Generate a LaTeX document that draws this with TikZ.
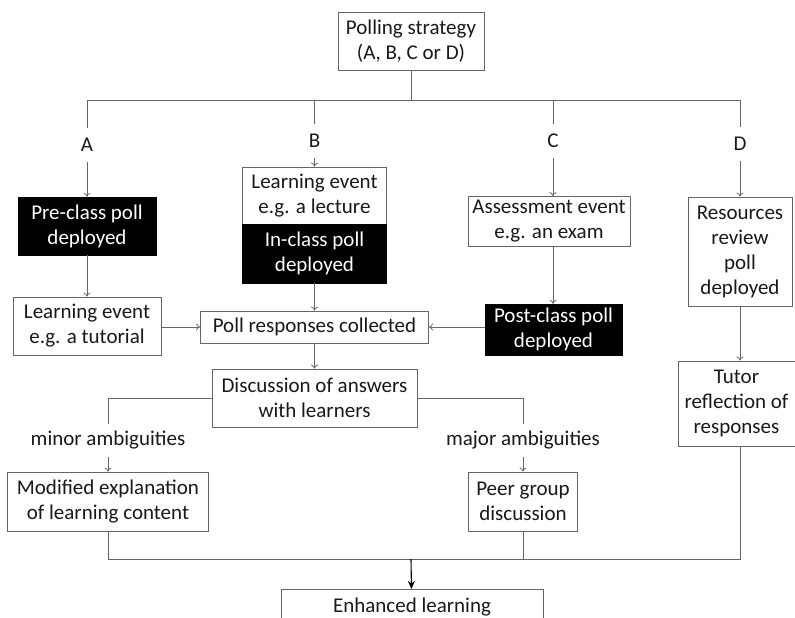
\documentclass[tikz,border=0pt]{standalone}
\usepackage{fontspec}
\setmainfont{Carlito}
\usetikzlibrary{arrows.meta}
\begin{document}
\begin{tikzpicture}[
    x=1pt, y=-1pt,
    every node/.style={font=\fontsize{21}{25}\selectfont, text=black!90},
    box/.style={draw=black!60, fill=white, align=center, inner sep=2pt, line width=0.8pt},
    pollbox/.style={draw=black, fill=black, text=white, align=center, inner sep=2pt},
    branch/.style={inner sep=2pt, minimum height=33pt},
    link/.style={draw=black!60, line width=0.8pt},
    arrow/.style={link, -{To[length=4pt,width=7pt]}},
    final_arrow/.style={-{Stealth[length=8pt,width=7pt]}, black, line width=1.1pt}
]
\useasboundingbox (0,0) rectangle (795,618);

% Strategy (top)
\node[box, minimum width=146pt, minimum height=58pt] (strategy) at (411,41) {Polling strategy\\(A, B, C or D)};
\coordinate (bus) at (411,100);

% Branch labels
\node[branch] (labA) at (87,145) {A};
\node[branch] (labB) at (314.5,141) {B};
\node[branch] (labC) at (553,141) {C};
\node[branch] (labD) at (740,144) {D};

% Polls and events
\node[pollbox, minimum width=138pt, minimum height=58pt] (preclass) at (87,226) {Pre-class poll\\deployed};
\node[box, minimum width=144pt, minimum height=57pt] (lecture) at (314.5,195.5) {Learning event\\e.g. a lecture};
\node[pollbox, minimum width=144pt, minimum height=59pt] (inclass) at (314.5,253.5) {In-class poll\\deployed};
\node[box, minimum width=162pt, minimum height=50pt] (assess) at (549,221.5) {Assessment event\\e.g. an exam};
\node[box, minimum width=104pt, minimum height=109pt] (resources) at (740,251.5) {Resources\\review\\poll\\deployed};
\node[box, minimum width=148pt, minimum height=58pt] (tutorial) at (87,326) {Learning event\\e.g. a tutorial};
\node[pollbox, minimum width=137pt, minimum height=51pt] (postclass) at (553.5,329.5) {Post-class poll\\deployed};

% Responses and discussion
\node[box, minimum width=228pt, minimum height=32pt] (responses) at (314.5,327) {Poll responses collected};
\node[box, minimum width=205pt, minimum height=58pt] (discussion) at (314.5,398) {Discussion of answers\\with learners};
\node[branch] (minor) at (108,440.5) {minor ambiguities};
\node[branch] (major) at (523,440.5) {major ambiguities};
\node[box, minimum width=201pt, minimum height=59pt] (modified) at (108,501.5) {Modified explanation\\of learning content};
\node[box, minimum width=109pt, minimum height=59pt] (peer) at (523,501.5) {Peer group\\discussion};
\node[box, minimum width=117pt, minimum height=85pt] (tutor) at (736.5,403.5) {Tutor\\reflection of\\responses};

% Outcome
\node[box, minimum width=262pt, minimum height=64pt, anchor=north] (enhanced) at (412,589) {Enhanced learning\\ \strut};
\coordinate (merge) at (411,559);

% Strategy to branches
\draw[link] (strategy) -- (bus);
\draw[link] (labA |- bus) -- (labD |- bus);
\foreach \b in {A,B,C,D}
    \draw[link] (lab\b |- bus) -- (lab\b);
\draw[arrow] (labA) -- (preclass);
\draw[arrow] (labB) -- (lecture);
\draw[arrow] (labC) -- (labC |- assess.north);
\draw[arrow] (labD) -- (resources);

% Down each branch
\draw[arrow] (preclass) -- (tutorial);
\draw[arrow] (inclass) -- (responses);
\draw[arrow] (labC |- assess.south) -- (labC |- postclass.north);
\draw[arrow] (resources) -- (resources |- tutor.north);
\draw[arrow] (tutorial.east |- responses) -- (responses);
\draw[arrow] (postclass.west |- responses) -- (responses);
\draw[arrow] (responses) -- (discussion);

% Ambiguity split
\draw[link] (discussion.west) -| (minor);
\draw[arrow] (minor) -- (modified);
\draw[link] (discussion.east) -| (major);
\draw[arrow] (major) -- (peer);

% Merge to outcome
\draw[link] (modified) |- (resources |- merge) -- (resources |- tutor.south);
\draw[link] (peer) -- (peer |- merge);
\draw[final_arrow] (merge) -- (enhanced);
\end{tikzpicture}
\end{document}
